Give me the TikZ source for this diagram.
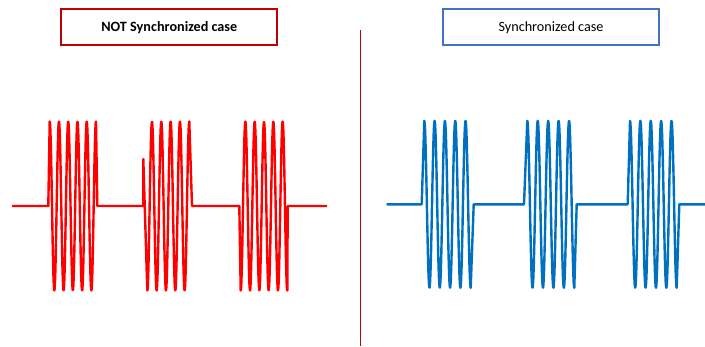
\documentclass[tikz,border=0pt]{standalone}
\usepackage{fontspec}
\setmainfont{Carlito}
\usepackage{xcolor}
\definecolor{boxred}{HTML}{C00000}
\definecolor{boxblue}{HTML}{4472C4}
\definecolor{waveblue}{HTML}{0070C0}
\tikzset{
  casebox/.style={draw=#1,line width=2.2pt,minimum width=216pt,minimum height=36pt,inner sep=0pt,font=\fontsize{14.2}{16}\selectfont},
  wave/.style={draw=#1,line width=2.4pt,line join=round,samples=150}
}
\begin{document}
\begin{tikzpicture}[x=1pt,y=-1pt]
\useasboundingbox (0,0) rectangle (705,346);
\node[casebox=boxred] (notsync) at (169.3,27.3) {\bfseries NOT Synchronized case};
\node[casebox=boxblue] (sync) at (551,27.3) {Synchronized case};
\draw[boxred,line width=1.5pt] (360.3,30) -- (360.3,346);
% NOT synchronized bursts
\draw[wave=red] (12,206) -- (48.3,206)
  -- plot[domain=49.7:96] (\x,{206-84.5*cos((\x-49.7)/9.26*360)})
  -- (97.3,206) -- (143.3,206) -- (143.3,159)
  -- plot[domain=147.3:189.3] (\x,{206+84.5*cos((\x-147.3)/9.33*360)})
  -- (192,206) -- (239.3,206)
  -- plot[domain=240.7:287.3] (\x,{206+84.5*cos((\x-240.7)/9.32*360)})
  -- (287.7,206) -- (327,206);
% synchronized bursts
\draw[wave=waveblue] (386.7,204.3) -- (421.7,204.3)
  -- plot[domain=424.3:470.7] (\x,{204.3-83.5*cos((\x-424.3)/10.31*360)})
  -- (473.7,204.3) -- (524,204.3)
  -- plot[domain=527.3:574.3] (\x,{204.3-83.5*cos((\x-527.3)/10.44*360)})
  -- (576.7,204.3) -- (627.7,204.3)
  -- plot[domain=630:676.7] (\x,{204.3-83.5*cos((\x-630)/10.38*360)})
  -- (679.3,204.3) -- (705,204.3);
\end{tikzpicture}
\end{document}
